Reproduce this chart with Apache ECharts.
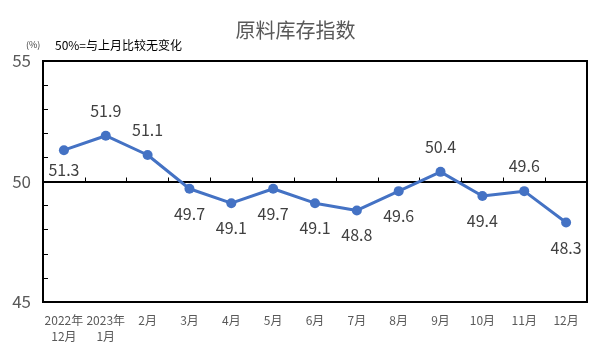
<!DOCTYPE html>
<html>
<head>
<meta charset="utf-8">
<script src="https://cdn.jsdelivr.net/npm/echarts@6/dist/echarts.min.js"></script>
<style>
  html, body { margin: 0; padding: 0; background: #fff; }
  #chart { width: 591px; height: 354px; }
</style>
</head>
<body>
<div id="chart"></div>
<script>
var months = ["2022年\n12月", "2023年\n1月", "2月", "3月", "4月", "5月", "6月", "7月", "8月", "9月", "10月", "11月", "12月"];
var values = [51.3, 51.9, 51.1, 49.7, 49.1, 49.7, 49.1, 48.8, 49.6, 50.4, 49.4, 49.6, 48.3];
var labelPos = ["bottom", "top", "top", "bottom", "bottom", "bottom", "bottom", "bottom", "bottom", "top", "bottom", "top", "bottom"];

var font = "'Noto Sans CJK SC', 'Liberation Sans', sans-serif";
var chart = echarts.init(document.getElementById("chart"));

// plot area: top 61, bottom 302 -> 50 sits half way up
var plotH = 354 - 61 - 52;

var option = {
  animation: false,
  title: {
    text: "原料库存指数",
    left: "center",
    top: 15,
    textStyle: { fontFamily: font, fontSize: 20, fontWeight: "normal", color: "#595959" }
  },
  graphic: [
    { type: "text", left: 26, top: 40, style: { text: "(%)", fontSize: 9, fill: "#404040", fontFamily: font } },
    { type: "text", left: 55, top: 39, style: { text: "50%=与上月比较无变化", fontSize: 12, fill: "#000", fontFamily: font } }
  ],
  grid: {
    left: 43, right: 4, top: 61, bottom: 52,
    show: true, borderColor: "#000", borderWidth: 2
  },
  xAxis: [{
    type: "category",
    data: months,
    boundaryGap: true,
    axisLine: { show: false },
    axisTick: { show: false },
    axisLabel: { color: "#595959", fontSize: 12, fontFamily: font, margin: 10, lineHeight: 16, interval: 0 }
  }, {
    // the 50 line, with category ticks pointing up
    type: "category",
    data: months,
    boundaryGap: true,
    position: "bottom",
    offset: -plotH / 2,
    axisLine: { show: true, lineStyle: { color: "#000", width: 2 } },
    axisTick: { show: true, inside: true, length: 4, interval: 0, lineStyle: { color: "#000", width: 1 } },
    axisLabel: { show: false }
  }],
  yAxis: {
    type: "value",
    min: 45, max: 55, interval: 5,
    axisLine: { show: true, lineStyle: { color: "#000", width: 2 } },
    axisTick: { show: true, inside: true, length: 5, lineStyle: { color: "#000", width: 1 } },
    minorTick: { show: true, splitNumber: 5, length: 5, lineStyle: { color: "#000", width: 1 } },
    splitLine: { show: false },
    axisLabel: { color: "#595959", fontSize: 17, fontFamily: font, margin: 12 }
  },
  series: [{
    type: "line",
    xAxisIndex: 0,
    data: values.map(function (v, i) {
      var lab = { position: labelPos[i] };
      if (i === 0) lab.distance = 7;
      return { value: v, label: lab };
    }),
    symbol: "circle",
    symbolSize: 10,
    lineStyle: { color: "#4472C4", width: 3 },
    itemStyle: { color: "#4472C4" },
    label: { show: true, distance: 12, color: "#404040", fontSize: 16, fontFamily: font },
    z: 3
  }]
};

option && chart.setOption(option);
</script>
</body>
</html>
